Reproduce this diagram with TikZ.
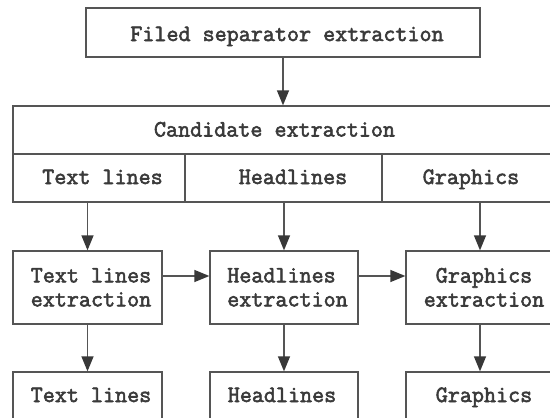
\documentclass[tikz,border=0pt]{standalone}
\usepackage{fontspec}
\newfontfamily\typew[FakeBold=2.4]{Latin Modern Mono}
\usetikzlibrary{arrows.meta}
\definecolor{ln}{HTML}{555555}
\definecolor{hd}{HTML}{383838}
\definecolor{tx}{HTML}{3A3A3A}
\begin{document}
\begin{tikzpicture}[x=1pt,y=-1pt,
  box/.style={draw=ln, line width=1.3pt, inner sep=0pt},
  txt/.style={font=\typew\fontsize{23.4}{24}\selectfont, text=tx, inner sep=0pt},
  arr/.style={draw=ln, line width=1.3pt, -{Triangle[length=15pt,width=12pt,fill=hd,color=hd]}}]
\useasboundingbox (0,0) rectangle (550,418);
\clip (0,0) rectangle (550,418);
\fill[white] (0,0) rectangle (550,418);
% boxes
\node[box, minimum width=394pt, minimum height=49pt] (top) at (283,32.5) {};
\node[box, minimum width=572pt, minimum height=48pt] (cand) at (299,130) {};
\node[box, minimum width=172pt, minimum height=48pt] (c1) at (99,178) {};
\node[box, minimum width=197pt, minimum height=48pt] (c2) at (283.5,178) {};
\node[box, minimum width=203pt, minimum height=48pt] (c3) at (483.5,178) {};
\node[box, minimum width=149pt, minimum height=73pt] (m1) at (87.5,287.5) {};
\node[box, minimum width=148pt, minimum height=73pt] (m2) at (284,287.5) {};
\node[box, minimum width=148pt, minimum height=73pt] (m3) at (480,287.5) {};
\node[box, minimum width=149pt, minimum height=56pt] (b1) at (87.5,400) {};
\node[box, minimum width=148pt, minimum height=56pt] (b2) at (284,400) {};
\node[box, minimum width=148pt, minimum height=56pt] (b3) at (480,400) {};
% texts
\node[txt, anchor=base] (ttop) at (287,41) {Filed separator extraction};
\node[txt, anchor=base] (tcand) at (274.5,136.5) {Candidate extraction};
\node[txt, anchor=base] (tc1) at (102.5,184) {Text lines};
\node[txt, anchor=base] (tc2) at (293,184) {Headlines};
\node[txt, anchor=base] (tc3) at (471,184) {Graphics};
\node[txt, align=center] (tm1) at (91,287.3) {Text lines\\extraction};
\node[txt, align=left] (tm2) at (287.5,287.3) {Headlines\\extraction};
\node[txt, align=center] (tm3) at (484,287.3) {Graphics\\extraction};
\node[txt, anchor=base] (tb1) at (91,402) {Text lines};
\node[txt, anchor=base] (tb2) at (282,402) {Headlines};
\node[txt, anchor=base] (tb3) at (484,402) {Graphics};
% connectors
\coordinate (hy) at (0,276);
\draw[arr] (top.south) -- (top.south |- cand.north);
\draw[arr] (c1.south -| m1.north) -- (m1.north);
\draw[arr] (c2.south -| m2.north) -- (m2.north);
\draw[arr] (c3.south -| m3.north) -- (m3.north);
\draw[arr] (m1.east |- hy) -- (m2.west |- hy);
\draw[arr] (m2.east |- hy) -- (m3.west |- hy);
\draw[arr] (m1.south) -- (b1.north);
\draw[arr] (m2.south) -- (b2.north);
\draw[arr] (m3.south) -- (b3.north);
\end{tikzpicture}
\end{document}
